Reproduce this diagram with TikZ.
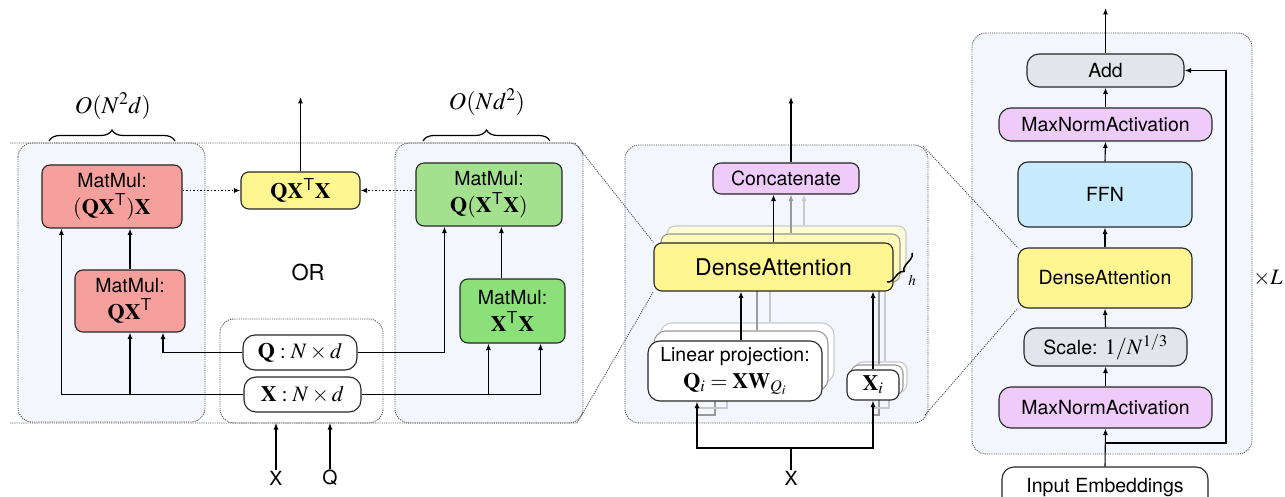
\documentclass[tikz,border=0pt]{standalone}
\usepackage{mathptmx}
\usepackage[no-math]{fontspec}
\setmainfont{TeX Gyre Heros}
\usetikzlibrary{arrows.meta,calc,decorations.pathreplacing}

\definecolor{panelbg}{HTML}{F3F6FD}
\definecolor{matred}{HTML}{F5A09C}
\definecolor{resyel}{HTML}{FFF691}
\definecolor{matgreenA}{HTML}{A3E18E}
\definecolor{matgreenB}{HTML}{8BE07A}
\definecolor{lilac}{HTML}{EECBF9}
\definecolor{ffnblue}{HTML}{C7EAFD}
\definecolor{opgray}{HTML}{E3E5EA}
\definecolor{guide}{HTML}{555555}
\definecolor{ghostA}{HTML}{999999}
\definecolor{ghostB}{HTML}{C9C9C9}

\newcommand{\Tp}{^{\mathsf{T}}}
\newcommand{\mathline}[1]{{\fontsize{22}{26}\selectfont$#1$}}

\pgfdeclarelayer{panels}
\pgfdeclarelayer{guides}
\pgfsetlayers{panels,guides,main}

\tikzset{
  txt/.style={font=\fontsize{19.5}{27}\selectfont},
  box/.style={txt, draw=black!85, line width=1.1pt, rounded corners=8pt,
    align=center, inner sep=0pt},
  size/.style 2 args={minimum width=#1, minimum height=#2},
  panel/.style={fill=panelbg, draw=guide, line width=0.9pt,
    dash pattern=on 1.1pt off 1.1pt, rounded corners=14pt},
  guideline/.style={draw=guide, line width=0.9pt, dash pattern=on 1.1pt off 1.1pt},
  arr/.style={-{Latex[length=6.5pt,width=5pt]}, line width=1.1pt},
  darr/.style={arr, dash pattern=on 1.5pt off 2pt},
  ghostline/.style={line width=1.1pt, draw=#1},
  ghostarr/.style={arr, draw=#1, fill=#1},
  bracestyle/.style={decorate, decoration={brace, amplitude=#1}, line width=1.2pt},
}

\begin{document}
\begin{tikzpicture}[x=1pt, y=-1pt]
\useasboundingbox (0,0) rectangle (1285,497);

% ---------- Left: two ways to compute Q X^T X ----------
\node[box, fill=matred, size={140}{63}] (r1) at (112,196.5)
  {MatMul:\\\mathline{(\mathbf{QX}\Tp)\mathbf{X}}};
\node[box, fill=matred, size={110}{62}] (r2) at (130,301)
  {MatMul:\\\mathline{\mathbf{QX}\Tp}};
\node[box, fill=resyel, size={119}{37}] (res) at (300.5,190.5)
  {\mathline{\mathbf{QX}\Tp\mathbf{X}}};
\node[box, fill=matgreenA, size={146}{63}] (g1) at (489,194.5)
  {MatMul:\\\mathline{\mathbf{Q}(\mathbf{X}\Tp\mathbf{X})}};
\node[box, fill=matgreenB, size={105}{64}] (g2) at (512.5,311)
  {MatMul:\\\mathline{\mathbf{X}\Tp\mathbf{X}}};
\node[box, fill=white, rounded corners=12pt, size={114}{35}] (qin) at (300,352.5)
  {\mathline{\mathbf{Q}:N\times d}};
\node[box, fill=white, rounded corners=12pt, size={117}{35}] (xin) at (302.5,394.5)
  {\mathline{\mathbf{X}:N\times d}};
\node[txt, font=\fontsize{22}{26}\selectfont] (or) at (308,272) {OR};

\node[font=\fontsize{24}{28}\selectfont] (costA) at (113,106) {$O(N^2d)$};
\node[font=\fontsize{24}{28}\selectfont] (costB) at (487,102) {$O(Nd^2)$};
\draw[bracestyle=11pt] (49,141) -- (175,141);
\draw[bracestyle=11pt] (423,141) -- (550,141);

\node[txt, inner sep=1pt] (lx) at (276,478) {X};
\node[txt, inner sep=1pt] (lq) at (330,478) {Q};

\coordinate (outtop) at (0,97);
\coordinate (r1in) at ($(r1.south west)+(20,0)$);
\coordinate (r2q) at ($(r2.south)+(33,0)$);
\coordinate (g1q) at ($(g1.south west)+(29,0)$);
\coordinate (g2a) at ($(g2.south west)+(29,0)$);
\coordinate (g2b) at ($(g2.south east)+(-25,0)$);
\coordinate (g2out) at ($(g2.north west)+(42,0)$);

\draw[arr] (xin.west) -| (r1in);
\draw[arr] (r2.south |- xin.west) -- (r2.south);
\draw[arr] (r2.north) -- (r2.north |- r1.south);
\draw[arr] (qin.west) -| (r2q);
\draw[arr] (qin.east) -| (g1q);
\draw[arr] (xin.east) -| (g2b);
\draw[arr] (g2a |- xin.east) -- (g2a);
\draw[arr] (g2out) -- (g2out |- g1.south);
\draw[darr] (res.west -| r1.east) -- (res.west);
\draw[darr] (res.east -| g1.west) -- (res.east);
\draw[arr] (res.north) -- (res.north |- outtop);

% ---------- Middle: multi-head DenseAttention ----------
\node[box, fill=lilac, size={146}{31}] (conc) at (786,178.5) {Concatenate};

% stacked heads behind the front one
\node[box, draw=ghostB, fill=resyel!35, size={239}{48}] (daB) at (786.5,250) {};
\node[box, draw=ghostA, fill=resyel!65, size={239}{48}] (daA) at (780.5,258) {};
\node[box, draw=ghostB, fill=white, rounded corners=12pt, size={174}{60}] (linB) at (747,353) {};
\node[box, draw=ghostA, fill=white, rounded corners=12pt, size={174}{60}] (linA) at (741,361) {};
\node[box, draw=ghostB, fill=white, size={52}{30}] (xiB) at (881,377) {};
\node[box, draw=ghostA, fill=white, size={52}{30}] (xiA) at (877,380) {};

\coordinate (cA) at ($(daA.north)+(10.5,0)$);
\coordinate (cB) at ($(daB.north)+(17.5,0)$);
\draw[ghostarr=ghostA] (cA) -- (cA |- conc.south);
\draw[ghostarr=ghostB] (cB) -- (cB |- conc.south);
\coordinate (lA) at ($(linA.north)+(16,0)$);
\coordinate (lB) at ($(linB.north)+(23,0)$);
\draw[ghostline=ghostA] (lA) -- (lA |- daA.south);
\draw[ghostline=ghostB] (lB) -- (lB |- daB.south);
\coordinate (xA) at ($(xiA.north)+(2,0)$);
\coordinate (xB) at ($(xiB.north)+(4,0)$);
\draw[ghostline=ghostA] (xA) -- (xA |- daA.south);
\draw[ghostline=ghostB] (xB) -- (xB |- daB.south);

\node[box, fill=resyel, size={239}{48}, font=\fontsize{23}{27}\selectfont] (da) at (773.5,267)
  {DenseAttention};
\node[box, fill=white, rounded corners=12pt, size={174}{60}] (lin) at (735,371)
  {Linear projection:\\\mathline{\mathbf{Q}_i=\mathbf{XW}_{Q_i}}};
\node[box, fill=white, size={52}{30}] (xi) at (873,385) {\mathline{\mathbf{X}_i}};

\draw[bracestyle=6pt, line width=1.5pt] (912,253) -- (887,282);
\node[font=\fontsize{15}{18}\selectfont] (hlab) at (912,280) {$h$};

\coordinate (outmid) at ($(conc.north)+(5,0)$);
\draw[arr] (outmid) -- (outmid |- outtop);
\draw[arr] (da.north) -- (da.north |- conc.south);
\coordinate (linout) at ($(lin.north)+(6,0)$);
\draw[arr] (linout) -- (linout |- da.south);
\draw[arr] (xi.north) -- (xi.north |- da.south);

\node[txt, inner sep=1pt] (lxm) at (791,478) {X};
\coordinate (split) at (791,448);
\coordinate (linin) at ($(lin.south)+(-38,0)$);
\draw[line width=1.1pt] (lxm.north) -- (split);
\draw[arr] (split) -| (linin);
\draw[arr] (split) -| (xi.south);

% ---------- Right: the full layer ----------
\node[box, fill=opgray, rounded corners=12pt, size={157}{33}] (add) at (1105.5,70.5) {Add};
\node[box, fill=lilac, rounded corners=12pt, size={213}{33}] (mn2) at (1105.5,124.5) {MaxNormActivation};
\node[box, fill=ffnblue, rounded corners=10pt, size={174}{65}] (ffn) at (1105,194.5) {FFN};
\node[box, fill=resyel, rounded corners=10pt, size={174}{60}] (da2) at (1105,278) {DenseAttention};
\node[box, fill=opgray, rounded corners=12pt, size={163}{38}] (sc) at (1105.5,347)
  {Scale: \mathline{1/N^{1/3}}};
\node[box, fill=lilac, rounded corners=12pt, size={213}{41}] (mn1) at (1105.5,407.5) {MaxNormActivation};
\node[box, fill=white, rounded corners=12pt, size={206}{42}] (emb) at (1105,488) {Input Embeddings};
\node[font=\fontsize{22}{26}\selectfont] (times) at (1268,278) {$\times L$};

\coordinate (outR) at (0,8);
\coordinate (resid) at (emb.north |- 0,443);
\coordinate (residx) at (1226,0);
\draw[arr] (emb.north) -- (mn1.south);
\draw[arr] (mn1.north) -- (sc.south);
\draw[arr] (sc.north) -- (da2.south);
\draw[arr] (da2.north) -- (ffn.south);
\draw[arr] (ffn.north) -- (mn2.south);
\draw[arr] (mn2.north) -- (add.south);
\draw[arr] (add.north) -- (add.north |- outR);
\draw[arr] (resid) -- (resid -| residx) |- (add.east);

% ---------- Panels and zoom guides ----------
\begin{pgfonlayer}{panels}
  \path[panel] (18,143) rectangle (205,422);
  \path[panel] (395,143) rectangle (583,423);
  \path[panel, fill=white] (220,319) rectangle (383,423);
  \path[panel] (625,145) rectangle (928,423);
  \path[panel] (972,33) rectangle (1252,454);
\end{pgfonlayer}
\begin{pgfonlayer}{guides}
  \coordinate (zl1) at (575,143);
  \coordinate (zl2) at (577,423);
  \coordinate (zr1) at (923,146);
  \coordinate (zr2) at (925,415);
  \draw[guideline] (10,143) -- (zl1) -- (da.north west);
  \draw[guideline] (10,423) -- (zl2) -- (da.south west);
  \draw[guideline] (zr1) -- (da2.north west);
  \draw[guideline] (zr2) -- (da2.south west);
  \draw[arr] (lx.north) -- (lx.north |- zl2);
  \draw[arr] (lq.north) -- (lq.north |- zl2);
  % inputs feeding the hidden heads
  \coordinate (linA0) at (linin |- 0,415);
  \coordinate (linB0) at (linin |- 0,408);
  \draw[ghostline=ghostA] (linA0) -| ($(linA.south)+(-26,0)$);
  \draw[ghostline=ghostB] (linB0) -| ($(linB.south)+(-20,0)$);
  \coordinate (xiA0) at (xi.south |- 0,415);
  \coordinate (xiB0) at (xi.south |- 0,408);
  \draw[ghostline=ghostA] (xiA0) -| ($(xiA.south)+(2,0)$);
  \draw[ghostline=ghostB] (xiB0) -| ($(xiB.south)+(8,0)$);
\end{pgfonlayer}
\end{tikzpicture}
\end{document}
